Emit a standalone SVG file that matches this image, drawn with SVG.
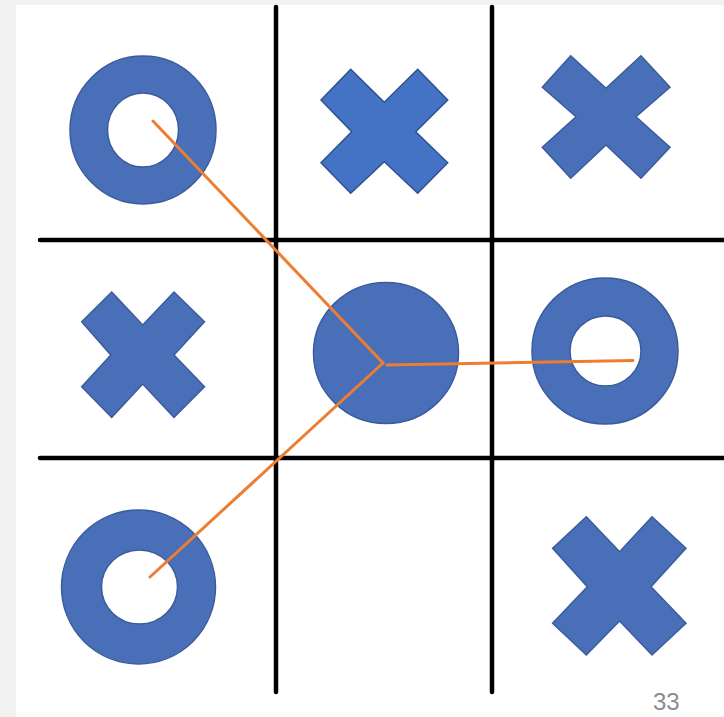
<svg xmlns="http://www.w3.org/2000/svg" width="724" height="717" viewBox="0 0 724 717">
<style>
.grid{stroke:#000;stroke-width:4.5;stroke-linecap:round;fill:none}
.mark{fill:#4A6FB9;stroke:#3B5C9C;stroke-width:1.5}
.markb{fill:#4472C4;stroke:#2F528F;stroke-width:1.5}
.link{stroke:#ED7D31;stroke-width:3;fill:none;stroke-linecap:round}
</style>
<rect x="0" y="0" width="724" height="717" fill="#F2F2F2"/>
<rect x="16" y="5" width="708" height="712" fill="#fff"/>
<g id="grid">
<line class="grid" x1="276" y1="7" x2="276" y2="692"/>
<line class="grid" x1="492" y1="7" x2="492" y2="692"/>
<line class="grid" x1="40" y1="240" x2="724" y2="240"/>
<line class="grid" x1="40" y1="458" x2="724" y2="458"/>
</g>
<g id="o-top-left">
<path class="mark" fill-rule="evenodd" d="M70,130a73,74 0 1,0 146,0a73,74 0 1,0 -146,0Z M107.5,130a35.5,37 0 1,1 71,0a35.5,37 0 1,1 -71,0Z"/>
</g>
<g id="x-top-middle">
<polygon class="markb" points="350.7,69.3 384.3,102.3 417.7,69.3 447.7,100 415.7,131.7 447.7,162.7 417.7,193.3 384.3,161.7 350.7,193.3 321,162.7 351.7,131.7 321,100"/>
</g>
<g id="x-top-right">
<polygon class="mark" points="570.7,55.7 606,88.3 641,55.7 670,87.3 636,116.7 670,147.3 641,178.3 606,145 570.7,178.3 542.3,147.3 576,116.7 542.3,87.3"/>
</g>
<g id="x-mid-left">
<polygon class="mark" points="111.7,292 142.7,325 174,292 204.5,321.7 174,355 204.5,386.7 174,417.3 142.7,384 111.7,417.3 81.7,386.7 110.8,355 81.7,321.7"/>
</g>
<g id="o-center">
<ellipse class="mark" cx="386" cy="353" rx="72.5" ry="70.5"/>
</g>
<g id="o-mid-right">
<path class="mark" fill-rule="evenodd" d="M532,351a73,73 0 1,0 146,0a73,73 0 1,0 -146,0Z M570,351a35.5,35 0 1,1 71,0a35.5,35 0 1,1 -71,0Z"/>
</g>
<g id="o-bottom-left">
<path class="mark" fill-rule="evenodd" d="M61.5,587a77,77 0 1,0 154,0a77,77 0 1,0 -154,0Z M101.5,587a38,37 0 1,1 76,0a38,37 0 1,1 -76,0Z"/>
</g>
<g id="x-bottom-right">
<polygon class="mark" points="586.3,516.7 619.6,551.7 652,516.7 686,548.3 651,586.7 686,623.3 652,655 619.6,621 586.3,655 552.6,623.3 587.3,586.7 552.6,548.3"/>
</g>
<g id="connectors">
<line class="link" x1="153" y1="121" x2="383" y2="363"/>
<line class="link" x1="383" y1="363" x2="150" y2="577"/>
<line class="link" x1="387" y1="365" x2="633" y2="360.5" stroke-width="4"/>
</g>
<text x="653" y="710" font-family="Liberation Sans, Arial, sans-serif" font-size="24" fill="#8C8C8C">33</text>
</svg>
